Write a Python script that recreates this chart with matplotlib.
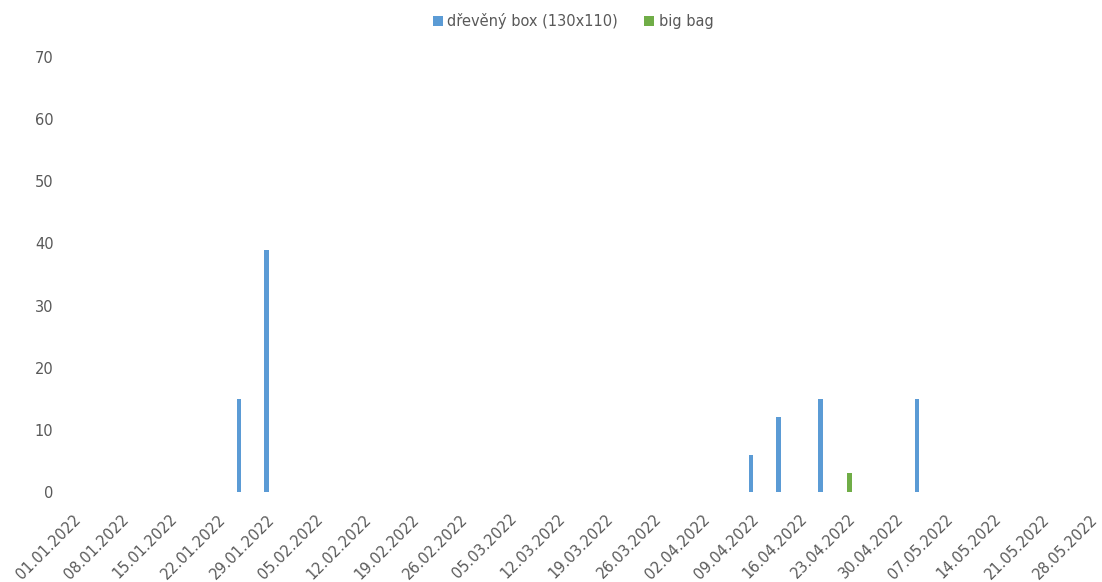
import matplotlib.pyplot as plt
import matplotlib.dates as mdates
import numpy as np
import datetime as dt

# data
box_dates = ["25.01.2022", "29.01.2022", "09.04.2022", "13.04.2022", "19.04.2022", "03.05.2022"]
box_values = [15, 39, 6, 12, 15, 15]
bag_dates = ["23.04.2022"]
bag_values = [3]
tick_start = "01.01.2022"
tick_end = "28.05.2022"

def d(s):
    return mdates.date2num(dt.datetime.strptime(s, "%d.%m.%Y"))

plt.rcParams['font.family'] = ['DejaVu Sans']
fig = plt.figure(figsize=(11.02, 5.82), dpi=100)
ax = fig.add_axes([73 / 1102, 1 - 492 / 582, (1090 - 73) / 1102, (492 - 57) / 582])

w = 0.7
ax.bar([d(s) for s in box_dates], box_values, width=w, color="#5B9BD5",
       label="dřevěný box (130x110)", clip_on=False)
ax.bar([d(s) + 0.25 for s in bag_dates], bag_values, width=w, color="#70AD47",
       label="big bag", clip_on=False)

ticks = np.arange(d(tick_start), d(tick_end) + 1, 7)
ax.set_xticks(ticks)
ax.set_xticklabels([mdates.num2date(t).strftime("%d.%m.%Y") for t in ticks],
                   rotation=45, ha="right", rotation_mode="anchor")
ax.set_xlim(d(tick_start), d(tick_end))
ax.set_ylim(0, 70)
ax.set_yticks(range(0, 71, 10))

for s in ax.spines.values():
    s.set_visible(False)
ax.tick_params(axis="both", length=0, colors="#595959", labelsize=10.5)
ax.tick_params(axis="x", pad=14)
ax.tick_params(axis="y", pad=14)

fig.legend(loc="upper center", bbox_to_anchor=(0.52, 1.0), ncol=2, frameon=False,
           handlelength=0.7, handleheight=0.7, handletextpad=0.3, columnspacing=1.8,
           fontsize=10.5, labelcolor="#595959")

fig.savefig("out.png", dpi=100)
